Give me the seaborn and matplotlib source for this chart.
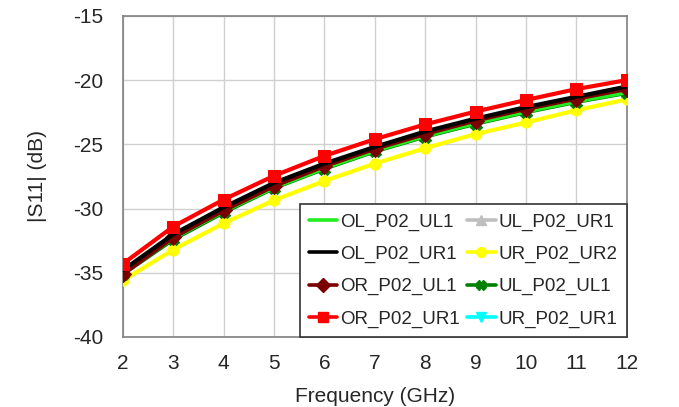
import matplotlib
matplotlib.use("Agg")
import matplotlib.pyplot as plt
from matplotlib.lines import Line2D
import seaborn as sns
import pandas as pd

freq = [2, 3, 4, 5, 6, 7, 8, 9, 10, 11, 12]

ol_p02_ul1 = [-35.0, -32.3, -30.2, -28.35, -26.85, -25.5, -24.35, -23.35, -22.45, -21.65, -20.95]
ol_p02_ur1 = [-34.8, -32.0, -29.9, -28.0, -26.5, -25.2, -24.0, -23.0, -22.1, -21.3, -20.5]
or_p02_ul1 = [-35.1, -32.25, -30.15, -28.25, -26.7, -25.35, -24.2, -23.15, -22.25, -21.45, -20.7]
or_p02_ur1 = [-34.3, -31.4, -29.3, -27.45, -25.9, -24.6, -23.45, -22.45, -21.55, -20.7, -20.0]
ul_p02_ur1 = [-35.0, -32.2, -30.1, -28.2, -26.7, -25.4, -24.25, -23.25, -22.35, -21.55, -20.85]
ur_p02_ur2 = [-35.6, -33.2, -31.15, -29.35, -27.85, -26.5, -25.3, -24.2, -23.3, -22.35, -21.5]
ul_p02_ul1 = [-35.1, -32.4, -30.3, -28.4, -26.9, -25.55, -24.4, -23.4, -22.5, -21.7, -21.0]
ur_p02_ur1 = [-35.05, -32.3, -30.2, -28.3, -26.8, -25.45, -24.3, -23.3, -22.4, -21.6, -20.9]

names = ["OL_P02_UL1", "OL_P02_UR1", "OR_P02_UL1", "OR_P02_UR1",
         "UL_P02_UR1", "UR_P02_UR2", "UL_P02_UL1", "UR_P02_UR1"]
values = [ol_p02_ul1, ol_p02_ur1, or_p02_ul1, or_p02_ur1,
          ul_p02_ur1, ur_p02_ur2, ul_p02_ul1, ur_p02_ur1]
colors = ["#22EE22", "#000000", "#7A0000", "#FF0000",
          "#BFBFBF", "#FFFF00", "#008000", "#00FFFF"]
markers = [None, None, "D", "s", "^", "o", "X", "v"]

x_ticks = [2, 3, 4, 5, 6, 7, 8, 9, 10, 11, 12]
y_ticks = [-40, -35, -30, -25, -20, -15]

sns.set_theme(style="white")
plt.rcParams["font.family"] = ["Liberation Sans", "DejaVu Sans"]
plt.rcParams["axes.unicode_minus"] = False

fig = plt.figure(figsize=(6.79, 4.07), dpi=100)
ax = fig.add_axes([0.181, 0.172, 0.742, 0.789])

draw_order = [4, 7, 6, 0, 2, 1, 5, 3]
z = {4: 2, 7: 3, 6: 4, 0: 5, 2: 6, 1: 7, 5: 3.5, 3: 8}
for i in draw_order:
    df = pd.DataFrame({"f": freq, "s": values[i]})
    sns.lineplot(data=df, x="f", y="s", ax=ax, color=colors[i], lw=3.0,
                 marker=markers[i], markersize=8 if markers[i] else 0,
                 markeredgecolor=colors[i], zorder=z[i], legend=False)

ax.set_xlim(2, 12)
ax.set_ylim(-40, -15)
ax.set_xticks(x_ticks)
ax.set_yticks(y_ticks)
ax.tick_params(axis="x", labelsize=15, length=0, pad=12)
ax.tick_params(axis="y", labelsize=15, length=0, pad=14)
ax.grid(True, color="#D0D0D0", lw=1)
for sp in ax.spines.values():
    sp.set_color("#808080")
    sp.set_linewidth(1.2)
ax.set_xlabel("Frequency (GHz)", fontsize=15)
ax.set_ylabel("|S11| (dB)", fontsize=15)
ax.xaxis.set_label_coords(0.5, -0.155)
ax.yaxis.set_label_coords(-0.15, 0.5)

handles = []
for i in range(8):
    handles.append(Line2D([], [], color=colors[i], lw=2.6, marker=markers[i],
                          markersize=7 if markers[i] else 0,
                          markeredgecolor=colors[i]))
leg = ax.legend(handles, names, ncol=2, loc="lower right",
                bbox_to_anchor=(1.0, 0.0), borderaxespad=0, fontsize=13.5,
                frameon=True, fancybox=False, framealpha=1, edgecolor="#333333",
                handlelength=1.5, handletextpad=0.15, columnspacing=0.4,
                labelspacing=0.8, borderpad=0.5)
leg.get_frame().set_linewidth(1.2)
leg.set_zorder(20)

fig.savefig("out.png", dpi=100)
